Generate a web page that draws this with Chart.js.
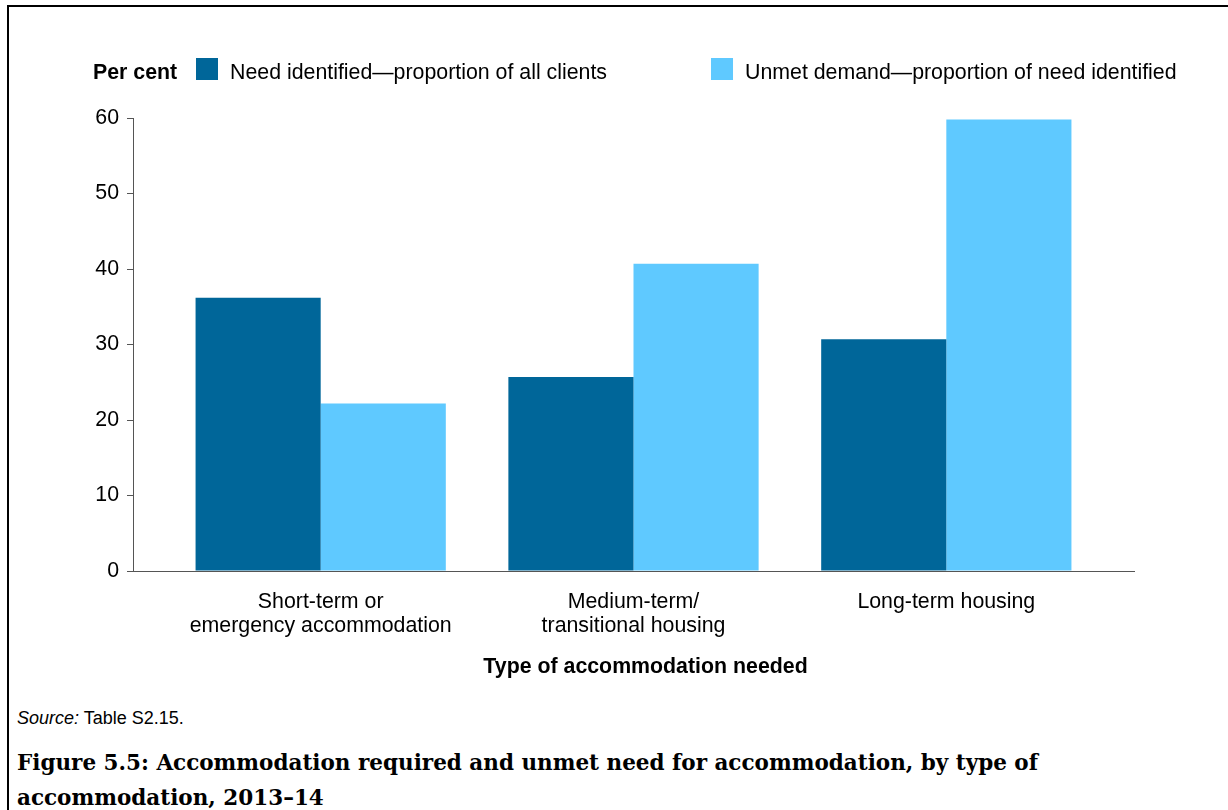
<!DOCTYPE html>
<html>
<head>
<meta charset="utf-8">
<title>Accommodation required and unmet need</title>
<script src="https://cdn.jsdelivr.net/npm/chart.js@4.4.1/dist/chart.umd.min.js"></script>
<style>
  html, body { margin: 0; padding: 0; background: #fff; }
  body { width: 1228px; height: 810px; position: relative; overflow: hidden;
         font-family: "Liberation Sans", Arial, sans-serif; color: #000; }
  #frame { position: absolute; left: 7px; top: 5px; width: 1240px; height: 820px;
           border-top: 2px solid #000; border-left: 2px solid #000; }
  #chartBox { position: absolute; left: 0; top: 0; width: 1228px; height: 700px; }
  #source { position: absolute; left: 17px; top: 708px; font-size: 18px; white-space: nowrap; }
  #caption { position: absolute; left: 17px; top: 745px; font-family: "DejaVu Serif", serif;
             font-weight: bold; font-size: 21.5px; line-height: 35px; white-space: nowrap; }
</style>
</head>
<body>
<div id="frame"></div>
<div id="chartBox"><canvas id="chart" width="1228" height="700"></canvas></div>
<div id="source"><i>Source:</i> Table S2.15.</div>
<div id="caption">Figure 5.5: Accommodation required and unmet need for accommodation, by type of<br>accommodation, 2013–14</div>
<script>
// Categories (multi-line tick labels) and series values, in per cent
const categories = [
  ["Short-term or", "emergency accommodation"],
  ["Medium-term/", "transitional housing"],
  ["Long-term housing"]
];
const needIdentified = [36.2, 25.7, 30.7];
const unmetDemand = [22.2, 40.7, 59.8];
const seriesNames = [
  "Need identified—proportion of all clients",
  "Unmet demand—proportion of need identified"
];
const yTicks = [0, 10, 20, 30, 40, 50, 60];
const yTitle = "Per cent";
const xTitle = "Type of accommodation needed";

const FONT = '"Liberation Sans", Arial, sans-serif';
const FS = 21.33;

// Draws the unit label, the legend row and the x-axis title
const headerPlugin = {
  id: 'header',
  afterDraw(chart) {
    const { ctx, chartArea } = chart;
    const left = chartArea.left;
    const top = chartArea.top;
    ctx.save();
    ctx.textBaseline = 'alphabetic';
    ctx.textAlign = 'left';
    ctx.fillStyle = '#000';
    ctx.font = `bold ${FS}px ${FONT}`;
    ctx.fillText(yTitle, left - 40, top - 39);

    ctx.font = `${FS}px ${FONT}`;
    let x = left + 63;
    chart.data.datasets.forEach(ds => {
      ctx.fillStyle = ds.backgroundColor;
      ctx.fillRect(x, top - 60, 22, 22);
      ctx.fillStyle = '#000';
      ctx.fillText(ds.label, x + 34, top - 39);
      x += 34 + ctx.measureText(ds.label).width + 104;
    });

    ctx.font = `bold ${FS}px ${FONT}`;
    ctx.textAlign = 'center';
    ctx.fillText(xTitle, (chartArea.left + chartArea.right) / 2 + 12, chartArea.bottom + 102);
    ctx.restore();
  }
};

const toPoints = arr => arr.map((v, i) => ({ x: i, y: v }));

new Chart(document.getElementById('chart'), {
  type: 'bar',
  data: {
    datasets: [
      { label: seriesNames[0], data: toPoints(needIdentified), backgroundColor: '#006699' },
      { label: seriesNames[1], data: toPoints(unmetDemand), backgroundColor: '#5FC9FF' }
    ]
  },
  options: {
    responsive: false,
    devicePixelRatio: 1,
    animation: false,
    layout: { padding: { top: 118, right: 94, bottom: 0, left: 0 } },
    datasets: { bar: { categoryPercentage: 0.8, barPercentage: 1.0, borderWidth: 0 } },
    plugins: { legend: { display: false }, tooltip: { enabled: false }, title: { display: false } },
    scales: {
      x: {
        type: 'linear',
        min: -0.6,
        max: 2.6,
        offset: false,
        afterBuildTicks: s => { s.ticks = categories.map((c, i) => ({ value: i })); },
        afterFit: s => { s.height = 129; },
        ticks: {
          callback: v => categories[v],
          font: { family: FONT, size: FS, lineHeight: 1.12 },
          color: '#000',
          padding: 19,
          maxRotation: 0,
          autoSkip: false
        },
        grid: { display: false, drawTicks: false, offset: false },
        border: { display: true, color: '#555', width: 1 }
      },
      y: {
        min: 0,
        max: 60,
        afterBuildTicks: s => { s.ticks = yTicks.map(v => ({ value: v })); },
        afterFit: s => { s.width = 133; },
        ticks: { font: { family: FONT, size: FS }, color: '#000', padding: 8 },
        grid: { drawOnChartArea: false, drawTicks: true, tickLength: 6, color: '#555', lineWidth: 1 },
        border: { display: true, color: '#555', width: 1 }
      }
    }
  },
  plugins: [headerPlugin]
});
</script>
</body>
</html>
